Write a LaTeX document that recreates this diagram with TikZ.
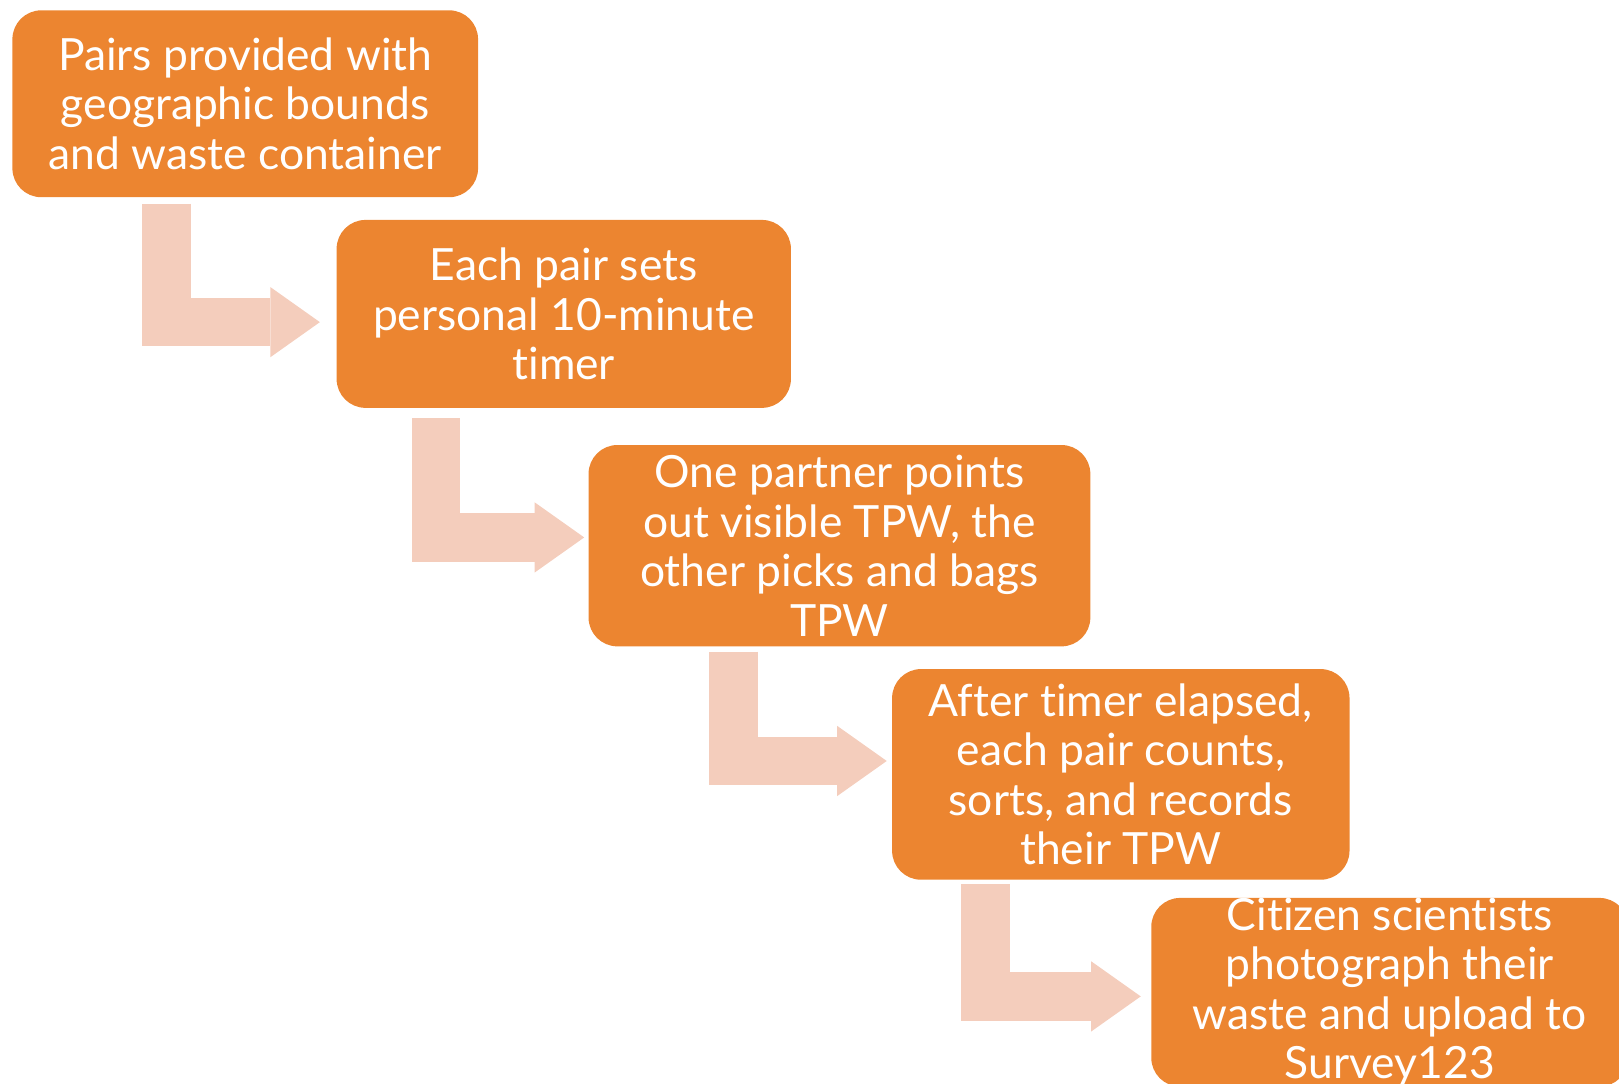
\documentclass[tikz,border=0pt]{standalone}
\usepackage{fontspec}
\setmainfont{Lato}[Ligatures=NoCommon]
\usetikzlibrary{arrows.meta}
\definecolor{steporange}{HTML}{EC8530}
\definecolor{flowpink}{HTML}{F4CDBC}
\newcommand{\stepfont}{\fontsize{43}{48}\selectfont}

\begin{document}
\begin{tikzpicture}[x=1pt, y=-1pt,
        stepbox/.style={rectangle, rounded corners=28pt, fill=steporange, text=white, align=center, inner sep=0pt, font=\stepfont},
        bent/.style={draw=flowpink, line width=47pt, line join=miter, -{Triangle[length=48pt, width=68pt, line width=0pt, fill=flowpink]}}]
        \useasboundingbox (0, 0) rectangle (1568, 1049);
        \clip (0, 0) rectangle (1568, 1049);
        \node[stepbox, minimum width=451pt, minimum height=181pt] (s1) at (237.5, 100.5) {Pairs provided with\\geographic bounds\\and waste container};
        \node[stepbox, minimum width=440pt, minimum height=182pt] (s2) at (546, 304) {Each pair sets\\personal 10-minute\\timer};
        \node[stepbox, minimum width=486pt, minimum height=195pt] (s3) at (813, 528.5) {One partner points\\out visible TPW, the\\other picks and bags\\TPW};
        \node[stepbox, minimum width=443pt, minimum height=204pt] (s4) at (1085.5, 750) {After timer elapsed,\\each pair counts,\\sorts, and records\\their TPW};
        \node[stepbox, minimum width=462pt, minimum height=180pt] (s5) at (1346, 961) {Citizen scientists\\photograph their\\waste and upload to\\Survey123};
        % bent arrows between the steps
        \draw[bent] ([xshift=149.5pt, yshift=-6pt]s1.south west) |- ([xshift=-16pt, yshift=-8pt]s2.west);
        \draw[bent] ([xshift=96.5pt, yshift=-10pt]s2.south west) |- ([xshift=-4pt, yshift=8pt]s3.west);
        \draw[bent] ([xshift=140.5pt, yshift=-5pt]s3.south west) |- ([xshift=-5pt, yshift=13pt]s4.west);
        \draw[bent] ([xshift=90.5pt, yshift=-4pt]s4.south west) |- ([xshift=-10pt, yshift=-4pt]s5.west);
    \end{tikzpicture}
\end{document}
